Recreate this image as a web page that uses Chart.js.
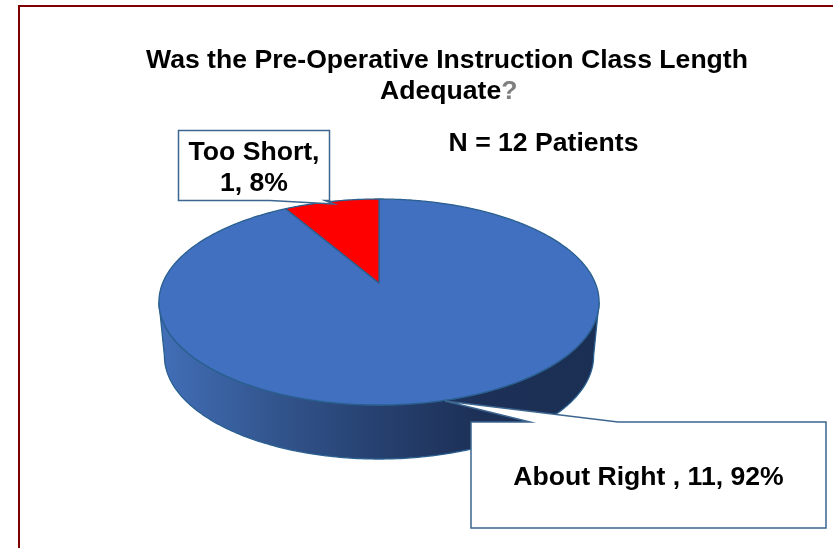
<!DOCTYPE html>
<html>
<head>
<meta charset="utf-8">
<title>Pre-Operative Instruction Class Length</title>
<script src="https://cdn.jsdelivr.net/npm/chart.js@4/dist/chart.umd.min.js"></script>
<style>
  html, body { margin: 0; padding: 0; background: #fff; overflow: hidden; }
  #frame { position: absolute; left: 18px; top: 5px; width: 815px; height: 543px;
           border-left: 2px solid #7f0000; border-top: 2px solid #7f0000; box-sizing: border-box; }
  canvas { position: absolute; left: 0; top: 0; }
</style>
</head>
<body>
<canvas id="pie" width="833" height="548"></canvas>
<div id="frame"></div>
<script>
const categories = ["About Right", "Too Short"];
const patients = [11, 1];
const sliceColors = ["#4070bf", "#ff0000"];
const titleLines = ["Was the Pre-Operative Instruction Class Length", "Adequate"];
const titleMark = "?";
const subtitle = "N = 12 Patients";

const EDGE = "#2a5f8f";
const FONT = "bold 26.6px 'Liberation Sans', Arial, sans-serif";

// pie is a flat disc seen in perspective, so the centre sits above the middle of the ellipse
const view = { cx: 379, cy: 283, a: 216.3, h: 99.5, k: 0.1845, depth: 54, shrink: 0.975 };

function project(angle) {
  const u = Math.cos(angle), v = Math.sin(angle);
  const w = 1 / (1 - view.k * v);
  return { x: view.cx + view.a * u * w, y: view.cy + view.h * v * w };
}

function projectLow(angle) {
  const p = project(angle);
  return { x: view.cx + (p.x - view.cx) * view.shrink, y: p.y + view.depth };
}

function drawSlice(ctx) {
  const opt = this.options;
  ctx.save();
  ctx.beginPath();
  ctx.moveTo(view.cx, view.cy);
  const steps = Math.ceil((this.endAngle - this.startAngle) / 0.01);
  for (let i = 0; i <= steps; i++) {
    const p = project(this.startAngle + (this.endAngle - this.startAngle) * i / steps);
    ctx.lineTo(p.x, p.y);
  }
  ctx.closePath();
  ctx.fillStyle = opt.backgroundColor;
  ctx.fill();
  ctx.strokeStyle = opt.borderColor;
  ctx.lineWidth = opt.borderWidth;
  ctx.lineJoin = "round";
  ctx.stroke();
  ctx.restore();
}

function drawWall(ctx) {
  // front wall: from the widest point of the disc round the near side
  const start = Math.asin(view.k), end = Math.PI - start;
  const grad = ctx.createLinearGradient(160, 0, 598, 0);
  grad.addColorStop(0, "#426fb8");
  grad.addColorStop(0.25, "#33568f");
  grad.addColorStop(0.5, "#26406f");
  grad.addColorStop(0.72, "#1d3158");
  grad.addColorStop(1, "#1b2f54");
  ctx.save();
  ctx.beginPath();
  for (let i = 0; i <= 200; i++) {
    const p = project(start + (end - start) * i / 200);
    if (i === 0) ctx.moveTo(p.x, p.y); else ctx.lineTo(p.x, p.y);
  }
  for (let i = 200; i >= 0; i--) {
    const p = projectLow(start + (end - start) * i / 200);
    ctx.lineTo(p.x, p.y);
  }
  ctx.closePath();
  ctx.fillStyle = grad;
  ctx.fill();
  ctx.strokeStyle = EDGE;
  ctx.lineWidth = 1.3;
  ctx.stroke();
  ctx.restore();
}

function callout(ctx, box, pointer, lines) {
  ctx.save();
  ctx.beginPath();
  ctx.moveTo(box.x, box.y);
  if (pointer.side === "top") {
    ctx.lineTo(pointer.from, box.y);
    ctx.lineTo(pointer.x, pointer.y);
    ctx.lineTo(pointer.to, box.y);
    ctx.lineTo(box.x + box.w, box.y);
    ctx.lineTo(box.x + box.w, box.y + box.h);
    ctx.lineTo(box.x, box.y + box.h);
  } else {
    ctx.lineTo(box.x + box.w, box.y);
    ctx.lineTo(box.x + box.w, box.y + box.h);
    ctx.lineTo(pointer.to, box.y + box.h);
    ctx.lineTo(pointer.x, pointer.y);
    ctx.lineTo(pointer.from, box.y + box.h);
    ctx.lineTo(box.x, box.y + box.h);
  }
  ctx.closePath();
  ctx.fillStyle = "#fff";
  ctx.fill();
  ctx.strokeStyle = "#3c6690";
  ctx.lineWidth = 1.5;
  ctx.stroke();
  ctx.fillStyle = "#000";
  ctx.font = FONT;
  ctx.textAlign = "center";
  ctx.textBaseline = "alphabetic";
  lines.forEach(l => ctx.fillText(l.text, box.x + box.w / 2, l.y));
  ctx.restore();
}

const perspectivePie = {
  id: "perspectivePie",
  beforeDatasetsDraw(chart) {
    chart.getDatasetMeta(0).data.forEach(arc => { arc.draw = drawSlice; });
    drawWall(chart.ctx);
  },
  afterDatasetsDraw(chart) {
    const ctx = chart.ctx;
    const total = patients.reduce((s, v) => s + v, 0);
    const pct = i => Math.round(patients[i] / total * 100) + "%";

    callout(ctx, { x: 471, y: 422, w: 355, h: 106 },
      { side: "top", from: 530, to: 618, x: 445, y: 401 },
      [{ text: categories[0] + " , " + patients[0] + ", " + pct(0), y: 485 }]);
    callout(ctx, { x: 178.5, y: 130.5, w: 151, h: 70 },
      { side: "bottom", from: 270, to: 325, x: 334, y: 204 },
      [{ text: categories[1] + ",", y: 160 }, { text: patients[1] + ", " + pct(1), y: 191 }]);

    ctx.save();
    ctx.font = FONT;
    ctx.fillStyle = "#000";
    ctx.textBaseline = "alphabetic";
    ctx.textAlign = "center";
    ctx.fillText(titleLines[0], 447, 68);
    ctx.fillText(subtitle, 543.5, 151);
    ctx.textAlign = "left";
    const w1 = ctx.measureText(titleLines[1]).width;
    ctx.fillText(titleLines[1], 380, 99);
    ctx.fillStyle = "#7f7f7f";
    ctx.fillText(titleMark, 380 + w1, 99);
    ctx.restore();
  }
};

new Chart(document.getElementById("pie"), {
  type: "pie",
  data: {
    labels: categories,
    datasets: [{
      data: patients,
      backgroundColor: sliceColors,
      borderColor: EDGE,
      borderWidth: 1.3
    }]
  },
  options: {
    responsive: false,
    animation: false,
    plugins: {
      legend: { display: false },
      tooltip: { enabled: false }
    }
  },
  plugins: [perspectivePie]
});
</script>
</body>
</html>
